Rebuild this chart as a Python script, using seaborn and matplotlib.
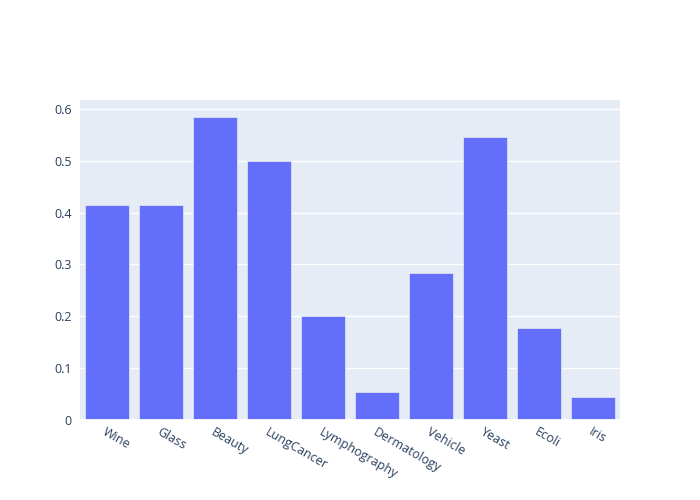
import matplotlib
matplotlib.use("Agg")
import matplotlib.pyplot as plt
import seaborn as sns
import pandas as pd

categories = ["Wine", "Glass", "Beauty", "LungCancer", "Lymphography",
              "Dermatology", "Vehicle", "Yeast", "Ecoli", "Iris"]
values = [0.415, 0.415, 0.585, 0.5, 0.2, 0.054, 0.283, 0.546, 0.178, 0.044]
yticks = [0, 0.1, 0.2, 0.3, 0.4, 0.5, 0.6]
ytick_labels = ["0", "0.1", "0.2", "0.3", "0.4", "0.5", "0.6"]

df = pd.DataFrame({"dataset": categories, "value": values})

sns.set_theme(style="white")
plt.rcParams["font.family"] = ["Open Sans", "DejaVu Sans"]

fig = plt.figure(figsize=(7, 5), dpi=100)
ax = fig.add_axes([80/700, 1-420/500, 540/700, 320/500])
ax.set_facecolor("#E5ECF6")

sns.barplot(data=df, x="dataset", y="value", color="#636EFA", saturation=1,
            width=0.8, edgecolor="#E5ECF6", linewidth=0.5, ax=ax, zorder=3)

ax.set_xlim(-0.5, len(categories) - 0.5)
ax.set_ylim(0, 0.617)
ax.set_yticks(yticks)
ax.set_yticklabels(ytick_labels)
ax.yaxis.grid(True, color="white", linewidth=1, zorder=0)
ax.axhline(0, color="white", linewidth=2, zorder=4)
ax.set_axisbelow(True)
for s in ax.spines.values():
    s.set_visible(False)
ax.set_xlabel("")
ax.set_ylabel("")
ax.tick_params(axis="both", length=0, labelsize=9, colors="#2a3f5f", pad=6)
ax.tick_params(axis="x", pad=4)
for lbl in ax.get_xticklabels():
    lbl.set_rotation(-30)
    lbl.set_ha("left")
    lbl.set_va("top")
    lbl.set_rotation_mode("anchor")
    lbl.set_color("#2a3f5f")

fig.savefig("out.png", dpi=100, facecolor="white")
